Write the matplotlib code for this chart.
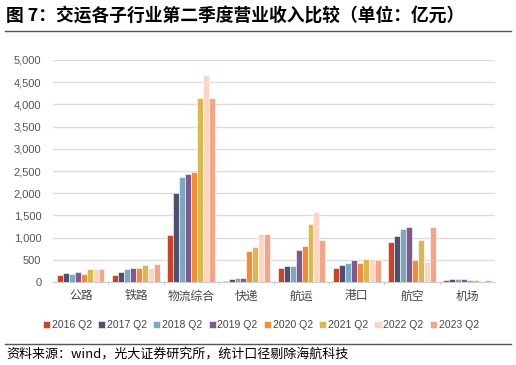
import matplotlib.pyplot as plt
import numpy as np
from matplotlib.lines import Line2D

plt.rcParams['font.family'] = ['Liberation Sans', 'Noto Sans CJK SC', 'DejaVu Sans']

categories = ['公路', '铁路', '物流综合', '快递', '航运', '港口', '航空', '机场']
series = ['2016 Q2', '2017 Q2', '2018 Q2', '2019 Q2', '2020 Q2', '2021 Q2', '2022 Q2', '2023 Q2']
colors = ['#C8442A', '#4F4F70', '#7EA8C0', '#7E5A8E', '#F08C3A', '#D8B850', '#FDD5C5', '#F0A68A']

v2016 = [165, 165, 1050, 30, 308, 308, 909, 53]
v2017 = [195, 225, 2005, 68, 360, 383, 1029, 60]
v2018 = [188, 300, 2373, 83, 360, 420, 1187, 68]
v2019 = [225, 315, 2440, 90, 728, 488, 1232, 68]
v2020 = [188, 315, 2478, 700, 818, 420, 503, 45]
v2021 = [285, 390, 4138, 800, 1300, 518, 954, 45]
v2022 = [300, 320, 4649, 1080, 1577, 518, 458, 23]
v2023 = [293, 405, 4153, 1075, 946, 503, 1247, 53]
values = [v2016, v2017, v2018, v2019, v2020, v2021, v2022, v2023]

fig = plt.figure(figsize=(5.16, 3.65), dpi=100)

# title and rules
fig.text(0.012, 0.955, '图 7：交运各子行业第二季度营业收入比较（单位：亿元）',
         fontsize=12.8, fontweight='bold', va='center', ha='left',
         family=['Noto Sans CJK SC', 'DejaVu Sans'])
fig.add_artist(Line2D([0.01, 0.99], [0.915, 0.915], color='#555555', lw=1.0))
fig.add_artist(Line2D([0.01, 0.99], [0.057, 0.057], color='#555555', lw=1.0))
fig.text(0.012, 0.03, '资料来源：wind，光大证券研究所，统计口径剔除海航科技',
         fontsize=9.4, va='center', ha='left',
         family=['Noto Sans CJK SC', 'DejaVu Sans'])

ax = fig.add_axes([0.103, 0.227, 0.856, 0.609])
x = np.arange(len(categories))
n = len(series)
group_w = 0.86
w = group_w / n
for i, (s, vals, c) in enumerate(zip(series, values, colors)):
    ax.bar(x - group_w / 2 + w * (i + 0.5), vals, width=w, color=c,
           edgecolor='white', linewidth=0.4, label=s, zorder=3)

ax.set_xlim(-0.5, len(categories) - 0.5)
ax.set_ylim(0, 5000)
ax.set_yticks(np.arange(0, 5001, 500))
ax.set_yticklabels([f'{t:,}' for t in range(0, 5001, 500)])
ax.yaxis.grid(True, color='#DDDDDD', lw=1.0, zorder=0)
ax.set_xticks(x)
ax.set_xticklabels(categories)
ax.tick_params(axis='x', length=0, pad=6, labelsize=8.5, labelcolor='#444444')
ax.tick_params(axis='y', length=0, pad=8.5, labelsize=8, labelcolor='#555555')
for b in np.arange(0.5, len(categories) - 1, 1):
    ax.plot([b, b], [0, -40], color='#CCCCCC', lw=0.8, clip_on=False)
for sp in ['top', 'right', 'left']:
    ax.spines[sp].set_visible(False)
ax.spines['bottom'].set_color('#CCCCCC')

ax.legend(loc='center', bbox_to_anchor=(0.47, -0.195), ncol=8, frameon=False,
          fontsize=7.5, handlelength=0.7, handleheight=0.7, handletextpad=0.15,
          columnspacing=0.6, labelcolor='#444444')

fig.savefig('out.png', dpi=100)
